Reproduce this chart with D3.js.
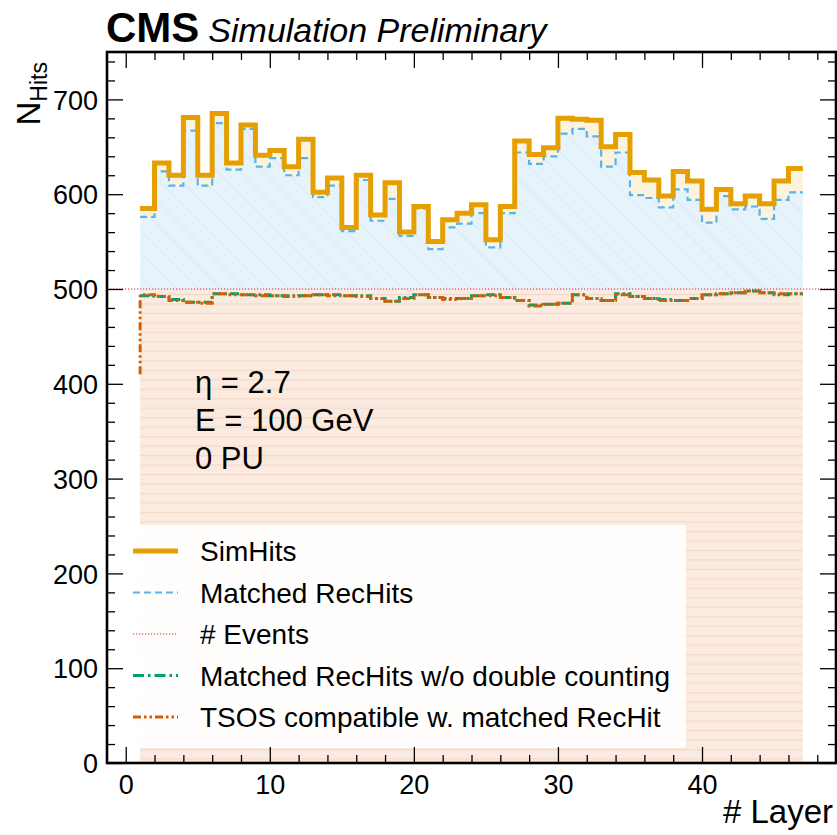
<!DOCTYPE html>
<html>
<head>
<meta charset="utf-8">
<script src="https://cdn.jsdelivr.net/npm/d3@7"></script>
<style>
  body { margin: 0; background: #fff; }
  text { font-family: "Liberation Sans", Arial, Helvetica, sans-serif; fill: #000; }
</style>
</head>
<body>
<svg id="chart" width="837" height="835"></svg>
<script>
// Hits per layer for a single-particle gun sample
const layers = [1,2,3,4,5,6,7,8,9,10,11,12,13,14,15,16,17,18,19,20,21,22,23,
                24,25,26,27,28,29,30,31,32,33,34,35,36,37,38,39,40,41,42,43,44,45,46];
const simHits = [585,633,620,681,620,685,633,673,641,646,629,658,602,617,565,620,578,612,560,587,550,573,580,
                 589,552,587,656,642,649,680,679,678,650,663,623,615,598,624,614,584,605,590,598,590,614,627];
const matchedRecHits = [576,624,609,667,609,675,626,669,629,638,620,638,597,609,561,615,572,595,556,585,542,565,569,
                        580,544,580,644,632,640,664,669,661,629,644,599,596,586,605,594,570,598,584,587,574,594,602];
const nEvents = 500;
const matchedNoDouble = [493,492,489,486,486,495,495,494,494,493,493,493,494,494,493,493,490,487,491,494,491,490,490,
                         493,494,491,488,483,484,485,494,490,488,495,492,490,489,488,490,494,495,496,498,496,494,495];
const tsosCompatible = [494,492,488,486,485,495,494,494,493,493,492,493,494,493,493,492,490,487,490,494,491,489,490,
                        493,493,491,488,482,484,485,494,490,488,494,492,490,488,488,490,494,495,496,498,496,495,495];
const tsosStart = 410;
const xTicks = [0,10,20,30,40];
const yTicks = [0,100,200,300,400,500,600,700];
const annotations = ["\u03b7 = 2.7", "E = 100 GeV", "0 PU"];

const colors = {
  sim: "#E69F00", matched: "#56B4E9", events: "#d0284a",
  noDouble: "#009E73", tsos: "#D55E00"
};

const svg = d3.select("#chart");
const frame = { left: 107, right: 836, top: 52, bottom: 763 };

const x = d3.scaleLinear().domain([-1.3, 49.3]).range([frame.left, frame.right]);
const y = d3.scaleLinear().domain([0, 750]).range([frame.bottom, frame.top]);

// step series: one point per bin lower edge, closed with the last upper edge
const lastEdge = layers[layers.length - 1] + 1;
const steps = vals => layers.map((l, i) => [l, vals[i]]).concat([[lastEdge, vals[vals.length - 1]]]);

const defs = svg.append("defs");
defs.append("clipPath").attr("id", "plotclip").append("rect")
  .attr("x", frame.left).attr("y", frame.top)
  .attr("width", frame.right - frame.left).attr("height", frame.bottom - frame.top);

const diag = defs.append("pattern").attr("id", "hatchBlue")
  .attr("patternUnits", "userSpaceOnUse").attr("width", 16).attr("height", 16)
  .attr("patternTransform", "rotate(-45)");
diag.append("rect").attr("width", 16).attr("height", 16).attr("fill", "#e7f3fb");
diag.append("line").attr("x1", 0).attr("y1", 0).attr("x2", 0).attr("y2", 16)
  .attr("stroke", "#cfe2ee").attr("stroke-width", 1.1);

const horiz = defs.append("pattern").attr("id", "hatchPeach")
  .attr("patternUnits", "userSpaceOnUse").attr("width", 10).attr("height", 9.48);
horiz.append("rect").attr("width", 10).attr("height", 9.48).attr("fill", "#fbeadf");
horiz.append("line").attr("x1", 0).attr("y1", 0.6).attr("x2", 10).attr("y2", 0.6)
  .attr("stroke", "#f6d9c7").attr("stroke-width", 1.2);

const plot = svg.append("g").attr("clip-path", "url(#plotclip)");

const area = d3.area().curve(d3.curveStepAfter).x(d => x(d[0]));

// events band (0 .. N events)
plot.append("path")
  .datum(steps(layers.map(() => nEvents)))
  .attr("fill", "url(#hatchPeach)")
  .attr("d", area.y0(y(0)).y1(d => y(d[1])));

// matched RecHits above the event count
plot.append("path")
  .datum(steps(matchedRecHits))
  .attr("fill", "url(#hatchBlue)")
  .attr("d", area.y0(y(nEvents)).y1(d => y(d[1])));

// SimHits not matched
const simPts = steps(simHits), matPts = steps(matchedRecHits);
plot.append("path")
  .datum(simPts.map((p, i) => [p[0], p[1], matPts[i][1]]))
  .attr("fill", "#fcf3de")
  .attr("d", d3.area().curve(d3.curveStepAfter).x(d => x(d[0])).y0(d => y(d[2])).y1(d => y(d[1])));

const stepLine = d3.line().curve(d3.curveStepAfter).x(d => x(d[0])).y(d => y(d[1]));

// events line across the full axis
plot.append("line")
  .attr("x1", frame.left).attr("x2", frame.right)
  .attr("y1", y(nEvents)).attr("y2", y(nEvents))
  .attr("stroke", colors.events).attr("stroke-width", 1.1).attr("stroke-dasharray", "1.2,1.8");

plot.append("path").datum(steps(matchedNoDouble))
  .attr("fill", "none").attr("stroke", colors.noDouble).attr("stroke-width", 3)
  .attr("stroke-dasharray", "9,3,2.5,3").attr("d", stepLine);

// TSOS line starts from its first-layer entry drawn at the lower edge
const tsosPts = [[layers[0], tsosStart]].concat(layers.map((l, i) => [l + 1, tsosCompatible[i]]));
plot.append("path").datum(tsosPts)
  .attr("fill", "none").attr("stroke", colors.tsos).attr("stroke-width", 3)
  .attr("stroke-dasharray", "8,3,2.5,3,2.5,3")
  .attr("d", d3.line().curve(d3.curveStepBefore).x(d => x(d[0])).y(d => y(d[1])));

plot.append("path").datum(matPts)
  .attr("fill", "none").attr("stroke", colors.matched).attr("stroke-width", 2.2)
  .attr("stroke-dasharray", "7,4").attr("d", stepLine);

plot.append("path").datum(simPts)
  .attr("fill", "none").attr("stroke", colors.sim).attr("stroke-width", 5)
  .attr("stroke-linejoin", "miter").attr("d", stepLine);

// annotation text
svg.append("g").selectAll("text").data(annotations).join("text")
  .attr("x", 195).attr("y", (d, i) => 393 + i * 38)
  .attr("font-size", 31).text(d => d);

// legend
const legendItems = [
  { label: "SimHits", color: colors.sim, width: 5, dash: null },
  { label: "Matched RecHits", color: colors.matched, width: 2.2, dash: "7,4" },
  { label: "# Events", color: colors.events, width: 1.1, dash: "1.2,1.8" },
  { label: "Matched RecHits w/o double counting", color: colors.noDouble, width: 3, dash: "11,4,2.5,4" },
  { label: "TSOS compatible w. matched RecHit", color: colors.tsos, width: 3, dash: "8,3,2.5,3,2.5,3" }
];
const lg = svg.append("g");
lg.append("rect").attr("x", 118).attr("y", 525).attr("width", 568).attr("height", 223)
  .attr("rx", 3).attr("fill", "#fff").attr("fill-opacity", 0.93);
const li = lg.selectAll("g.item").data(legendItems).join("g")
  .attr("transform", (d, i) => `translate(0,${551 + i * 41.5})`);
li.append("line").attr("x1", 133).attr("x2", 178).attr("y1", 0).attr("y2", 0)
  .attr("stroke", d => d.color).attr("stroke-width", d => d.width)
  .attr("stroke-dasharray", d => d.dash);
li.append("text").attr("x", 200).attr("y", 10).attr("font-size", 28).text(d => d.label);

// axes with inward ticks on all four sides
const minorXVals = d3.range(0, 49, 2).filter(v => v % 10 !== 0);
const minorYVals = d3.range(0, 750, 20).filter(v => v % 100 !== 0);

const gxb = svg.append("g").attr("transform", `translate(0,${frame.bottom})`);
gxb.call(d3.axisBottom(x).tickValues(xTicks).tickSizeInner(-16).tickSizeOuter(0).tickPadding(8));
gxb.append("g").call(d3.axisBottom(x).tickValues(minorXVals).tickSizeInner(-8).tickSizeOuter(0).tickFormat(""));
const gxt = svg.append("g").attr("transform", `translate(0,${frame.top})`);
gxt.call(d3.axisTop(x).tickValues(xTicks).tickSizeInner(-16).tickSizeOuter(0).tickFormat(""));
gxt.append("g").call(d3.axisTop(x).tickValues(minorXVals).tickSizeInner(-8).tickSizeOuter(0).tickFormat(""));

const gyl = svg.append("g").attr("transform", `translate(${frame.left},0)`);
gyl.call(d3.axisLeft(y).tickValues(yTicks).tickSizeInner(-16).tickSizeOuter(0).tickPadding(9));
gyl.append("g").call(d3.axisLeft(y).tickValues(minorYVals).tickSizeInner(-8).tickSizeOuter(0).tickFormat(""));
const gyr = svg.append("g").attr("transform", `translate(${frame.right},0)`);
gyr.call(d3.axisRight(y).tickValues(yTicks).tickSizeInner(-16).tickSizeOuter(0).tickFormat(""));
gyr.append("g").call(d3.axisRight(y).tickValues(minorYVals).tickSizeInner(-8).tickSizeOuter(0).tickFormat(""));

svg.selectAll(".domain").remove();
svg.selectAll(".tick line").attr("stroke", "#000").attr("stroke-width", 1.3);
svg.selectAll(".tick text").attr("font-size", 27).attr("font-family", "Liberation Sans, Arial, sans-serif").attr("fill", "#000");
gxb.selectAll(".tick text").attr("dy", "0.85em");
gyl.selectAll(".tick text").attr("dy", "0.36em");

svg.append("rect").attr("x", frame.left).attr("y", frame.top)
  .attr("width", frame.right - frame.left).attr("height", frame.bottom - frame.top)
  .attr("fill", "none").attr("stroke", "#000").attr("stroke-width", 2.6);

// axis titles
svg.append("text").attr("x", 833).attr("y", 823).attr("text-anchor", "end")
  .attr("font-size", 33).text("# Layer");
const yl = svg.append("text").attr("transform", `translate(40,${frame.top + 10}) rotate(-90)`)
  .attr("text-anchor", "end").attr("font-size", 33);
yl.append("tspan").text("N");
yl.append("tspan").attr("font-size", 23).attr("dy", 7).text("Hits");

// experiment label
const title = svg.append("text").attr("x", frame.left - 1).attr("y", 42);
title.append("tspan").attr("font-size", 42).attr("font-weight", "bold").text("CMS");
title.append("tspan").attr("font-size", 34).attr("font-style", "italic").attr("dx", 9).text("Simulation Preliminary");
</script>
</body>
</html>
